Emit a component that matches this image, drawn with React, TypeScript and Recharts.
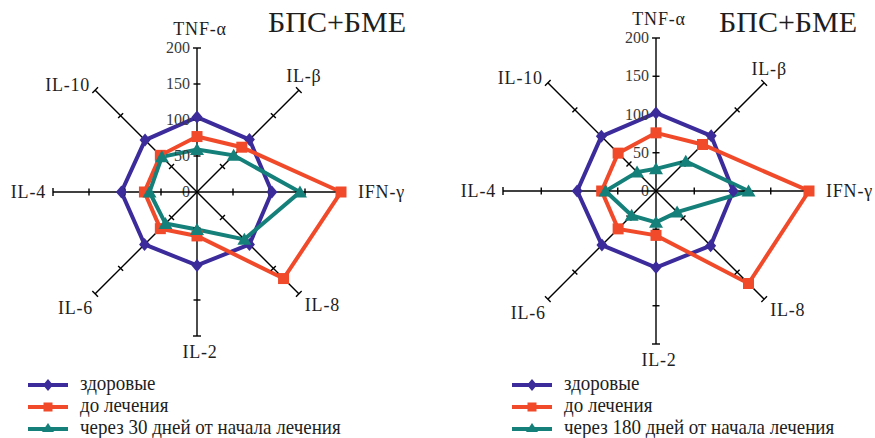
import React from 'react';
import {
  RadarChart,
  Radar,
  PolarAngleAxis,
  PolarRadiusAxis,
} from 'recharts';

// cytokine axes, clockwise from the top
const cytokines = ['TNF-α', 'IL-β', 'IFN-γ', 'IL-8', 'IL-2', 'IL-6', 'IL-4', 'IL-10'];

const radiusTicks = [50, 100, 150, 200];

// 30-day panel
const healthyA = [104, 103, 104, 103, 102, 103, 105, 102];
const beforeA = [77, 88, 200, 170, 61, 72, 73, 72];
const after30 = [59, 72, 143, 93, 52, 62, 66, 69];

// 180-day panel
const healthyB = [102, 102, 101, 101, 100, 100, 103, 101];
const beforeB = [76, 86, 200, 171, 58, 70, 71, 70];
const after180 = [29, 55, 121, 39, 41, 45, 66, 35];

const legendA = ['здоровые', 'до лечения', 'через 30 дней от начала лечения'];
const legendB = ['здоровые', 'до лечения', 'через 180 дней от начала лечения'];

const BLUE = '#3b2b9b';
const RED = '#f04a2a';
const TEAL = '#148079';
const INK = '#1e1e1e';
const FONT = '"Liberation Serif", "Times New Roman", serif';

const buildRows = (healthy: number[], before: number[], after: number[]) =>
  cytokines.map((name, i) => {
    const row: Record<string, any> = {
      name,
      healthy: healthy[i],
      before: before[i],
      after: after[i],
    };
    radiusTicks.forEach((t) => {
      row[`t${t}`] = t;
    });
    return row;
  });

const diamond = (props: any) => {
  const { cx, cy, index } = props;
  return (
    <polygon
      key={`d-${index}`}
      points={`${cx},${cy - 6.5} ${cx + 5.5},${cy} ${cx},${cy + 6.5} ${cx - 5.5},${cy}`}
      fill={BLUE}
    />
  );
};

const square = (props: any) => {
  const { cx, cy, index } = props;
  return <rect key={`s-${index}`} x={cx - 5.5} y={cy - 5.5} width={11} height={11} fill={RED} />;
};

const triangle = (props: any) => {
  const { cx, cy, index } = props;
  return (
    <polygon
      key={`t-${index}`}
      points={`${cx},${cy - 6.5} ${cx + 7},${cy + 5.5} ${cx - 7},${cy + 5.5}`}
      fill={TEAL}
    />
  );
};

// perpendicular tick mark on each spoke; the outermost one also draws the spoke
const tickMark = (ox: number, oy: number, half: number, spoke: boolean) => (props: any) => {
  const { cx, cy, index } = props;
  const dx = cx - ox;
  const dy = cy - oy;
  const len = Math.hypot(dx, dy) || 1;
  const nx = -dy / len;
  const ny = dx / len;
  return (
    <g key={`m-${index}`}>
      {spoke && <line x1={ox} y1={oy} x2={cx} y2={cy} stroke="#000" strokeWidth={1.4} />}
      <line
        x1={cx - nx * half}
        y1={cy - ny * half}
        x2={cx + nx * half}
        y2={cy + ny * half}
        stroke="#000"
        strokeWidth={1.4}
      />
    </g>
  );
};

const angleTick = (ox: number, oy: number, R: number) => (props: any) => {
  const { x, y, payload, index } = props;
  const dx = x - ox;
  const dy = y - oy;
  const len = Math.hypot(dx, dy) || 1;
  const ux = dx / len;
  const uy = dy / len;
  const ex = ox + ux * R;
  const ey = oy + uy * R;
  let tx = ex;
  let ty = ey;
  let anchor: 'start' | 'middle' | 'end' = 'middle';
  if (Math.abs(ux) < 0.3) {
    tx = ex + 3;
    ty = uy < 0 ? ey - 13 : ey + 22;
  } else if (Math.abs(uy) < 0.3) {
    ty = ey + 6;
    if (ux > 0) {
      anchor = 'start';
      tx = ex + 17;
    } else {
      anchor = 'end';
      tx = ex - 7;
    }
  } else if (uy < 0 && ux > 0) {
    tx = ex + 5;
    ty = ey - 8;
  } else if (uy > 0 && ux > 0) {
    anchor = 'start';
    tx = ex + 6;
    ty = ey + 17;
  } else if (uy > 0 && ux < 0) {
    anchor = 'end';
    tx = ex - 2;
    ty = ey + 20;
  } else {
    anchor = 'end';
    tx = ex - 5;
    ty = ey + 1;
  }
  return (
    <text
      key={`a-${index}`}
      x={tx}
      y={ty}
      textAnchor={anchor}
      fontFamily={FONT}
      fontSize={18}
      letterSpacing={0.8}
      fill={INK}
    >
      {payload.value}
    </text>
  );
};

const radiusTick = (props: any) => {
  const { x, y, payload, index } = props;
  return (
    <text
      key={`r-${index}`}
      x={x - 7}
      y={y + 5}
      textAnchor="end"
      fontFamily={FONT}
      fontSize={16}
      fill="#3a3a3a"
    >
      {payload.value}
    </text>
  );
};

interface PanelProps {
  rows: Record<string, any>[];
  width: number;
  height: number;
  cx: number;
  cy: number;
  radius: number;
}

const CytokinePanel: React.FC<PanelProps> = ({ rows, width, height, cx, cy, radius }) => (
  <RadarChart
    width={width}
    height={height}
    data={rows}
    cx={cx}
    cy={cy}
    outerRadius={radius}
    margin={{ top: 0, right: 0, bottom: 0, left: 0 }}
  >
    <PolarAngleAxis
      dataKey="name"
      axisLine={false}
      tickLine={false}
      tick={angleTick(cx, cy, radius)}
    />
    <PolarRadiusAxis
      angle={90}
      domain={[0, 200]}
      tickCount={5}
      axisLine={false}
      tick={radiusTick}
    />
    {radiusTicks.map((t) => (
      <Radar
        key={t}
        dataKey={`t${t}`}
        stroke="none"
        fill="none"
        legendType="none"
        isAnimationActive={false}
        dot={tickMark(cx, cy, t === 200 ? 4 : 3.5, t === 200)}
      />
    ))}
    <Radar
      dataKey="healthy"
      stroke={BLUE}
      strokeWidth={4}
      fill="none"
      dot={diamond}
      isAnimationActive={false}
    />
    <Radar
      dataKey="before"
      stroke={RED}
      strokeWidth={4}
      fill="none"
      dot={square}
      isAnimationActive={false}
    />
    <Radar
      dataKey="after"
      stroke={TEAL}
      strokeWidth={4}
      fill="none"
      dot={triangle}
      isAnimationActive={false}
    />
  </RadarChart>
);

const markers = [
  (x: number, y: number) => (
    <polygon points={`${x},${y - 6} ${x + 5},${y} ${x},${y + 6} ${x - 5},${y}`} fill={BLUE} />
  ),
  (x: number, y: number) => <rect x={x - 4.5} y={y - 4.5} width={9} height={9} fill={RED} />,
  (x: number, y: number) => (
    <polygon points={`${x},${y - 6} ${x + 6},${y + 3} ${x - 6},${y + 3}`} fill={TEAL} />
  ),
];

const legendColors = [BLUE, RED, TEAL];

const LegendBlock: React.FC<{ x: number; labels: string[] }> = ({ x, labels }) => (
  <g>
    {labels.map((label, i) => {
      const y = 385 + i * 22;
      return (
        <g key={label}>
          <line x1={x} y1={y} x2={x + 40} y2={y} stroke={legendColors[i]} strokeWidth={4} />
          {markers[i](x + 20, y)}
          <text
            x={0}
            y={0}
            transform={`translate(${x + 52}, ${y + 5}) scale(0.95, 1)`}
            fontFamily={FONT}
            fontSize={20}
            fill={INK}
          >
            {label}
          </text>
        </g>
      );
    })}
  </g>
);

export default function App() {
  const rowsA = buildRows(healthyA, beforeA, after30);
  const rowsB = buildRows(healthyB, beforeB, after180);

  return (
    <div
      style={{
        position: 'absolute',
        left: 0,
        top: 0,
        width: 875,
        height: 438,
        background: '#fff',
        overflow: 'hidden',
      }}
    >
      <div style={{ position: 'absolute', left: 0, top: 0 }}>
        <CytokinePanel rows={rowsA} width={440} height={370} cx={197} cy={192} radius={144} />
      </div>
      <div style={{ position: 'absolute', left: 440, top: 0 }}>
        <CytokinePanel rows={rowsB} width={435} height={370} cx={216} cy={191} radius={153} />
      </div>
      <svg
        width={875}
        height={438}
        style={{ position: 'absolute', left: 0, top: 0, pointerEvents: 'none' }}
      >
        <text x={268} y={32} fontFamily={FONT} fontSize={30} fill={INK}>
          БПС+БМЕ
        </text>
        <text x={719} y={32} fontFamily={FONT} fontSize={30} fill={INK}>
          БПС+БМЕ
        </text>
        <LegendBlock x={28} labels={legendA} />
        <LegendBlock x={512} labels={legendB} />
      </svg>
    </div>
  );
}
